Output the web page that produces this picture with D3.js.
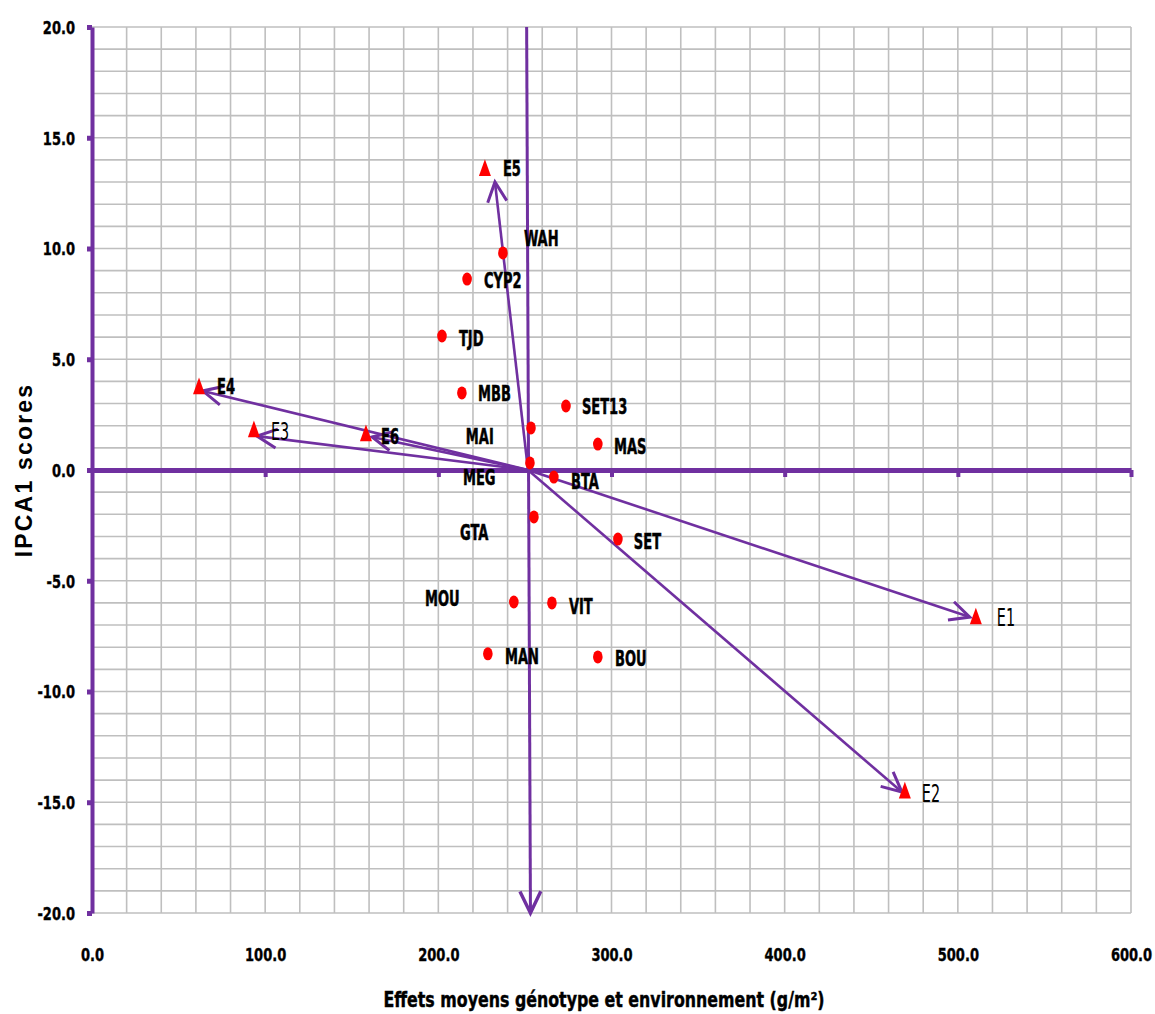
<!DOCTYPE html>
<html>
<head>
<meta charset="utf-8">
<script src="https://cdn.jsdelivr.net/npm/d3@7"></script>
<style>
  body { margin: 0; background: #fff; }
  .narrow { font-family: "DejaVu Sans Condensed", "Liberation Sans Narrow", sans-serif; }
</style>
</head>
<body>
<div class="chart"></div>
<script>
// ---- data ----
var xTicks = [0, 100, 200, 300, 400, 500, 600];
var yTicks = [-20, -15, -10, -5, 0, 5, 10, 15, 20];

var genotypes = ["WAH", "CYP2", "TJD", "MBB", "SET13", "MAI", "MAS", "MEG", "BTA", "GTA", "SET", "MOU", "VIT", "MAN", "BOU"];
var genoMean  = [237.3, 216.6, 202.1, 213.6, 273.7, 253.5, 292.1, 252.9, 266.7, 255.2, 303.7, 243.6, 265.6, 228.6, 292.1];
var genoIPCA1 = [9.80, 8.62, 6.05, 3.48, 2.89, 1.90, 1.17, 0.32, -0.32, -2.12, -3.12, -5.96, -6.00, -8.30, -8.44];
// where each data label sits (same units as the axes)
var genoLabelX = [249.4, 226.3, 211.9, 222.9, 282.9, 215.9, 301.4, 214.2, 276.6, 212.5, 312.9, 192.3, 275.4, 238.5, 302.0];
var genoLabelY = [10.47, 8.58, 5.96, 3.48, 2.89, 1.53, 1.08, -0.32, -0.50, -2.84, -3.21, -5.78, -6.14, -8.40, -8.49];

var envs      = ["E1", "E2", "E3", "E4", "E5", "E6"];
var envMean   = [510.4, 469.4, 93.5, 61.8, 226.9, 158.2];
var envIPCA1  = [-6.64, -14.5, 1.81, 3.75, 13.6, 1.63];
var arrowTipX = [506.9, 467.7, 95.3, 64.0, 232.7, 161.7];
var arrowTipY = [-6.64, -14.54, 1.53, 3.57, 13.0, 1.49];
var envLabelX = [522.5, 479.2, 103.3, 72.2, 237.3, 166.9];
var envLabelY = [-6.64, -14.58, 1.76, 3.79, 13.63, 1.53];
var envBold   = [false, false, false, true, true, true];

var origin = [251.8, 0];               // grand mean, IPCA1 = 0
var meanLineX = [251.0, 253.2];
var meanLineY = [20, -20];

// ---- layout ----
var svgWidth = 1155;
var svgHeight = 1014;
var purple = "#7030a0";

var svg = d3.select(".chart")
  .append("svg")
  .attr("width", svgWidth)
  .attr("height", svgHeight)
  .style("background", "#fff");

var x = d3.scaleLinear().domain([0, 600]).range([92, 1131]);
var y = d3.scaleLinear().domain([-20, 20]).range([913, 27]);

var fmt = d => d.toFixed(1);   // plain hyphen for negatives, like the original

// text helper: condensed font stretched vertically like the original
function label(g, px, py, str, size, sy, opts) {
  opts = opts || {};
  var bold = (opts.weight || "bold") === "bold";
  return g.append("text")
    .attr("class", "narrow")
    .attr("transform", `translate(${px},${py}) scale(1,${sy})`)
    .attr("dy", "0.36em")
    .attr("text-anchor", opts.anchor || "start")
    .attr("font-weight", opts.weight || "bold")
    .attr("font-size", size + "px")
    .attr("fill", "#000")
    .attr("stroke", bold ? "#000" : "none")
    .attr("stroke-width", bold ? 0.35 : 0)
    .text(str);
}

// grid
var grid = svg.append("g");
grid.selectAll(".vgrid")
  .data(d3.range(0, 601, 20))
  .enter().append("line")
  .attr("x1", d => x(d)).attr("x2", d => x(d))
  .attr("y1", y(20)).attr("y2", y(-20))
  .attr("stroke", "#bfbfbf").attr("stroke-width", 1.6);
grid.selectAll(".hgrid")
  .data(d3.range(-20, 21, 1))
  .enter().append("line")
  .attr("x1", x(0)).attr("x2", x(600))
  .attr("y1", d => y(d)).attr("y2", d => y(d))
  .attr("stroke", "#bfbfbf").attr("stroke-width", 1.6);

// y axis (left, purple)
var leftAxis = d3.axisLeft(y)
  .tickValues(yTicks)
  .tickSize(5)
  .tickSizeOuter(0)
  .tickPadding(12)
  .tickFormat(fmt);
var yAxisG = svg.append("g")
  .attr("transform", `translate(${x(0)},0)`)
  .call(leftAxis);
yAxisG.select(".domain").attr("stroke", purple).attr("stroke-width", 4);
yAxisG.selectAll(".tick line").attr("stroke", purple).attr("stroke-width", 5);
yAxisG.selectAll(".tick text")
  .attr("class", "narrow")
  .attr("font-weight", "bold")
  .attr("font-size", "14.5px")
  .attr("fill", "#000")
  .attr("stroke", "#000")
  .attr("stroke-width", 0.3)
  .attr("dy", "0.36em")
  .attr("transform", "scale(1,1.2)");

// x axis line crossing at zero
var zeroAxis = d3.axisBottom(x)
  .tickValues(xTicks.slice(1))
  .tickSize(7)
  .tickSizeOuter(0)
  .tickFormat("");
var xAxisG = svg.append("g")
  .attr("transform", `translate(0,${y(0)})`)
  .call(zeroAxis);
xAxisG.select(".domain").attr("stroke", purple).attr("stroke-width", 5);
xAxisG.selectAll(".tick line").attr("stroke", purple).attr("stroke-width", 4);

// x tick labels at the bottom
var bottomAxis = d3.axisBottom(x)
  .tickValues(xTicks)
  .tickSize(0)
  .tickPadding(0)
  .tickFormat(fmt);
var xLabG = svg.append("g")
  .attr("transform", `translate(0,${y(-20) + 42})`)
  .call(bottomAxis);
xLabG.select(".domain").remove();
xLabG.selectAll(".tick text")
  .attr("class", "narrow")
  .attr("font-weight", "bold")
  .attr("font-size", "14.5px")
  .attr("fill", "#000")
  .attr("stroke", "#000")
  .attr("stroke-width", 0.3)
  .attr("y", 0)
  .attr("dy", "0.36em")
  .attr("transform", "scale(1,1.2)");

// arrow helper (open V head)
function arrow(g, x1, y1, x2, y2, width, head) {
  g.append("line")
    .attr("x1", x1).attr("y1", y1).attr("x2", x2).attr("y2", y2)
    .attr("stroke", purple).attr("stroke-width", width);
  var a = Math.atan2(y1 - y2, x1 - x2);
  var spread = 0.45;
  var pts = [
    [x2 + head * Math.cos(a - spread), y2 + head * Math.sin(a - spread)],
    [x2, y2],
    [x2 + head * Math.cos(a + spread), y2 + head * Math.sin(a + spread)]
  ];
  g.append("path")
    .attr("d", d3.line()(pts))
    .attr("fill", "none")
    .attr("stroke", purple)
    .attr("stroke-width", width + 0.4)
    .attr("stroke-linejoin", "miter");
}

var arrows = svg.append("g");
// vertical grand-mean line with arrow at the bottom
arrow(arrows, x(meanLineX[0]), y(meanLineY[0]), x(meanLineX[1]), y(meanLineY[1]), 3, 24);

// environment vectors
envs.forEach((e, i) => {
  arrow(arrows, x(origin[0]), y(origin[1]), x(arrowTipX[i]), y(arrowTipY[i]), 2.6, 22);
});

// environment markers (triangles)
svg.append("g").selectAll("path")
  .data(envs)
  .enter().append("path")
  .attr("transform", (d, i) => `translate(${x(envMean[i])},${y(envIPCA1[i])}) scale(1,1.45)`)
  .attr("d", "M0,-6.5 L6,5 L-6,5 Z")
  .attr("fill", "#ff0000");

// genotype markers
svg.append("g").selectAll("ellipse")
  .data(genotypes)
  .enter().append("ellipse")
  .attr("cx", (d, i) => x(genoMean[i]))
  .attr("cy", (d, i) => y(genoIPCA1[i]))
  .attr("rx", 4.8)
  .attr("ry", 6.5)
  .attr("fill", "#ff0000");

// genotype labels
var labels = svg.append("g");
genotypes.forEach((g, i) => {
  label(labels, x(genoLabelX[i]), y(genoLabelY[i]), g, 14.5, 1.45);
});

// environment labels
envs.forEach((e, i) => {
  if (envBold[i]) {
    label(labels, x(envLabelX[i]), y(envLabelY[i]), e, 14.5, 1.45);
  } else {
    label(labels, x(envLabelX[i]), y(envLabelY[i]), e, 16, 1.6, { weight: "normal" });
  }
});

// axis titles
svg.append("text")
  .attr("transform", `translate(24,${y(0)}) rotate(-90)`)
  .attr("text-anchor", "middle")
  .attr("dy", "0.35em")
  .attr("font-family", "'Liberation Sans', Arial, sans-serif")
  .attr("font-weight", "bold")
  .attr("font-size", "23px")
  .attr("letter-spacing", "2.2px")
  .text("IPCA1 scores");

label(svg, 604, 1000, "Effets moyens génotype et environnement (g/m²)", 17.6, 1.17, { anchor: "middle" });
</script>
</body>
</html>
